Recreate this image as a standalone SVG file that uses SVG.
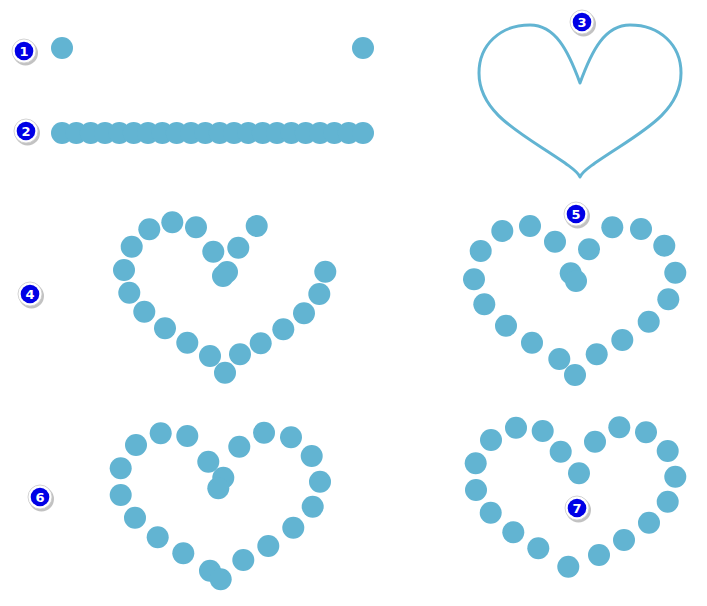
<svg xmlns="http://www.w3.org/2000/svg" width="707" height="606" viewBox="0 0 707 606">
<defs>
<style>
.d{fill:#62b4d2}
.bs{fill:#9a9a9a;opacity:0.6}
.br{fill:#ffffff;stroke:#c8c8c8;stroke-width:0.8}
.bi{fill:#0000e6}
.bt{fill:#ffffff;font-family:"DejaVu Sans",sans-serif;font-weight:bold;font-size:13px;text-anchor:middle}
</style>
<g id="dot"><circle class="d" r="11"/></g>
<g id="badge"><circle class="bs" cx="1.5" cy="2" r="12.5"/><circle class="br" r="12"/><circle class="bi" r="9.3"/></g>
</defs>
<rect width="707" height="606" fill="#ffffff"/>
<g id="step1">
<use href="#dot" x="62" y="48"/><use href="#dot" x="363" y="48"/>
</g>
<g id="step2">
<use href="#dot" x="62" y="133"/><use href="#dot" x="76.3" y="133"/><use href="#dot" x="90.7" y="133"/><use href="#dot" x="105" y="133"/><use href="#dot" x="119.3" y="133"/><use href="#dot" x="133.7" y="133"/><use href="#dot" x="148" y="133"/><use href="#dot" x="162.3" y="133"/><use href="#dot" x="176.7" y="133"/><use href="#dot" x="191" y="133"/><use href="#dot" x="205.3" y="133"/><use href="#dot" x="219.7" y="133"/><use href="#dot" x="234" y="133"/><use href="#dot" x="248.3" y="133"/><use href="#dot" x="262.7" y="133"/><use href="#dot" x="277" y="133"/><use href="#dot" x="291.3" y="133"/><use href="#dot" x="305.7" y="133"/><use href="#dot" x="320" y="133"/><use href="#dot" x="334.3" y="133"/><use href="#dot" x="348.7" y="133"/><use href="#dot" x="363" y="133"/>
</g>
<g id="step3">
<path d="M580,83 C568,50 555,25 530,25 C500,25 479,45 479,73 C479,115 525,135 565,163 C573,169 578,172 580,177 C582,172 587,169 595,163 C635,135 681,115 681,73 C681,45 660,25 630,25 C605,25 592,50 580,83 Z" fill="none" stroke="#62b4d2" stroke-width="3" stroke-linejoin="round"/>
</g>
<g id="step4">
<use href="#dot" x="172.3" y="222.3"/><use href="#dot" x="149.3" y="229.3"/><use href="#dot" x="196" y="227.3"/><use href="#dot" x="131.7" y="246.7"/><use href="#dot" x="256.7" y="226"/><use href="#dot" x="213.3" y="251.7"/><use href="#dot" x="238.3" y="247.7"/><use href="#dot" x="227" y="272"/><use href="#dot" x="223" y="276"/><use href="#dot" x="124" y="270"/><use href="#dot" x="129.3" y="292.7"/><use href="#dot" x="144.3" y="311.7"/><use href="#dot" x="165" y="328.3"/><use href="#dot" x="187.3" y="342.7"/><use href="#dot" x="210" y="356"/><use href="#dot" x="225" y="372.7"/><use href="#dot" x="240" y="354.3"/><use href="#dot" x="260.7" y="343.3"/><use href="#dot" x="283.3" y="329.3"/><use href="#dot" x="304" y="313.3"/><use href="#dot" x="319.3" y="294"/><use href="#dot" x="325.3" y="271.7"/>
</g>
<g id="step5">
<use href="#dot" x="530" y="226"/><use href="#dot" x="502.3" y="231"/><use href="#dot" x="555" y="241.7"/><use href="#dot" x="480.7" y="251"/><use href="#dot" x="474" y="279.3"/><use href="#dot" x="484.3" y="304.3"/><use href="#dot" x="506" y="325.7"/><use href="#dot" x="532" y="342.7"/><use href="#dot" x="559.3" y="359"/><use href="#dot" x="575" y="375"/><use href="#dot" x="596.7" y="354.3"/><use href="#dot" x="622.3" y="340"/><use href="#dot" x="648.7" y="321.7"/><use href="#dot" x="668.3" y="299.3"/><use href="#dot" x="675.3" y="272.7"/><use href="#dot" x="664.3" y="245.7"/><use href="#dot" x="641" y="229"/><use href="#dot" x="612.3" y="227.3"/><use href="#dot" x="589" y="249.3"/><use href="#dot" x="570.7" y="273.3"/><use href="#dot" x="576" y="281"/>
</g>
<g id="step6">
<use href="#dot" x="160.7" y="433.3"/><use href="#dot" x="136" y="445"/><use href="#dot" x="187.3" y="436"/><use href="#dot" x="120.7" y="468.3"/><use href="#dot" x="120.7" y="495"/><use href="#dot" x="135" y="517.7"/><use href="#dot" x="157.7" y="537.3"/><use href="#dot" x="183.3" y="553.3"/><use href="#dot" x="210" y="570.7"/><use href="#dot" x="220.7" y="579.3"/><use href="#dot" x="243.3" y="560"/><use href="#dot" x="268.3" y="546"/><use href="#dot" x="293.3" y="527.7"/><use href="#dot" x="312.7" y="506.7"/><use href="#dot" x="320" y="481.7"/><use href="#dot" x="311.7" y="456"/><use href="#dot" x="291" y="437.3"/><use href="#dot" x="264" y="432.7"/><use href="#dot" x="239.3" y="446.7"/><use href="#dot" x="208.3" y="461.7"/><use href="#dot" x="223.3" y="477.7"/><use href="#dot" x="218.3" y="488.3"/>
</g>
<g id="step7">
<use href="#dot" x="516" y="427.7"/><use href="#dot" x="491" y="440"/><use href="#dot" x="542.7" y="431"/><use href="#dot" x="475.7" y="463.3"/><use href="#dot" x="476" y="490"/><use href="#dot" x="490.7" y="512.7"/><use href="#dot" x="513.3" y="532.3"/><use href="#dot" x="538.3" y="548.3"/><use href="#dot" x="568.3" y="566.7"/><use href="#dot" x="599" y="555"/><use href="#dot" x="624" y="540"/><use href="#dot" x="649" y="522.7"/><use href="#dot" x="667.7" y="501.7"/><use href="#dot" x="675.3" y="476.7"/><use href="#dot" x="667.7" y="451"/><use href="#dot" x="646" y="432.3"/><use href="#dot" x="619.3" y="427.3"/><use href="#dot" x="595" y="441.7"/><use href="#dot" x="560.7" y="451.7"/><use href="#dot" x="579" y="473.3"/>
</g>
<g id="badges">
<g id="badge1"><use href="#badge" x="24" y="51"/><text class="bt" x="24" y="55.7">1</text></g>
<g id="badge2"><use href="#badge" x="26" y="131"/><text class="bt" x="26" y="135.7">2</text></g>
<g id="badge3"><use href="#badge" x="582" y="22"/><text class="bt" x="582" y="26.7">3</text></g>
<g id="badge4"><use href="#badge" x="30" y="294"/><text class="bt" x="30" y="298.7">4</text></g>
<g id="badge5"><use href="#badge" x="576" y="214"/><text class="bt" x="576" y="218.7">5</text></g>
<g id="badge6"><use href="#badge" x="40" y="497"/><text class="bt" x="40" y="501.7">6</text></g>
<g id="badge7"><use href="#badge" x="577" y="508"/><text class="bt" x="577" y="512.7">7</text></g>
</g>
</svg>
